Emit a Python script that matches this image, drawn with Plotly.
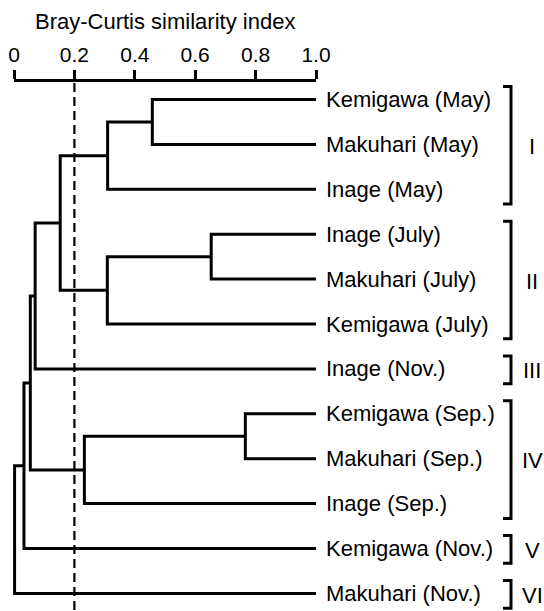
import plotly.graph_objects as go

# ---------------- data ----------------
leaves = ["Kemigawa (May)", "Makuhari (May)", "Inage (May)",
          "Inage (July)", "Makuhari (July)", "Kemigawa (July)",
          "Inage (Nov.)",
          "Kemigawa (Sep.)", "Makuhari (Sep.)", "Inage (Sep.)",
          "Kemigawa (Nov.)", "Makuhari (Nov.)"]
# merges: (child_a, child_b, similarity); new nodes numbered from len(leaves)
merge_a = [0, 12, 3, 14, 13, 16, 7, 18, 17, 20, 21]
merge_b = [1, 2, 4, 5, 15, 6, 8, 9, 19, 10, 11]
merge_sim = [0.458, 0.310, 0.653, 0.309, 0.153, 0.070, 0.766, 0.233, 0.054, 0.033, 0.002]
group_first = [0, 3, 6, 7, 10, 11]
group_last = [2, 5, 6, 9, 10, 11]
group_names = ["I", "II", "III", "IV", "V", "VI"]
tick_vals = [0, 0.2, 0.4, 0.6, 0.8, 1.0]
tick_text = ["0", "0.2", "0.4", "0.6", "0.8", "1.0"]
cut_level = 0.2
axis_title = "Bray-Curtis similarity index"

# ---------------- layout constants ----------------
W, H = 544, 611
X0_PX, XS = 14.0, 302.0      # pixel of similarity 0, pixels per unit
Y0_PX, YS = 99.5, 44.9       # pixel of first leaf, pixels per leaf
AXIS_Y_PX = 80.0
FONT = "Liberation Sans, Arial, Helvetica, sans-serif"
FS = 22
LW = 3

def px_to_x(px):
    return (px - X0_PX) / XS

def px_to_y(py):
    return (py - Y0_PX) / YS

# ---------------- tree geometry ----------------
n = len(leaves)
node_x = {i: 1.0 for i in range(n)}
node_y = {i: float(i) for i in range(n)}

fig = go.Figure()

# invisible trace for the axis subplot
fig.add_trace(go.Scatter(x=[0, 1], y=[0, 1], mode="markers",
                         marker=dict(opacity=0), hoverinfo="skip",
                         showlegend=False, xaxis="x", yaxis="y"))

for k, (a, b, s) in enumerate(zip(merge_a, merge_b, merge_sim)):
    new = n + k
    xs = [node_x[a], s, s, node_x[b]]
    ys = [node_y[a], node_y[a], node_y[b], node_y[b]]
    fig.add_trace(go.Scatter(x=xs, y=ys, mode="lines",
                             line=dict(color="black", width=LW),
                             hoverinfo="skip", showlegend=False,
                             xaxis="x2", yaxis="y2"))
    node_x[new] = s
    node_y[new] = (node_y[a] + node_y[b]) / 2.0

# dashed cut line
fig.add_trace(go.Scatter(x=[cut_level, cut_level], y=[px_to_y(83), px_to_y(H)],
                         mode="lines",
                         line=dict(color="black", width=2.2, dash="9px,5px"),
                         hoverinfo="skip", showlegend=False,
                         xaxis="x2", yaxis="y2"))

# brackets
bx = px_to_x(511)
btick = px_to_x(503)
for f, l in zip(group_first, group_last):
    top = f - 0.29
    bot = l + 0.33
    fig.add_trace(go.Scatter(x=[btick, bx, bx, btick], y=[top, top, bot, bot],
                             mode="lines",
                             line=dict(color="black", width=LW),
                             hoverinfo="skip", showlegend=False,
                             xaxis="x2", yaxis="y2"))

annotations = []
for i, name in enumerate(leaves):
    annotations.append(dict(x=1.0, y=i, xref="x2", yref="y2", text=name,
                            xanchor="left", yanchor="middle", xshift=8,
                            showarrow=False,
                            font=dict(family=FONT, size=FS, color="black")))
for f, l, g in zip(group_first, group_last, group_names):
    annotations.append(dict(x=px_to_x(532), y=(f + l) / 2.0, xref="x2", yref="y2",
                            text=g, xanchor="center", yanchor="middle", yshift=-2,
                            showarrow=False,
                            font=dict(family=FONT, size=FS, color="black")))
annotations.append(dict(x=0.5, y=1 - 21 / H, xref="x", yref="paper",
                        text=axis_title, xanchor="center", yanchor="middle",
                        showarrow=False,
                        font=dict(family=FONT, size=FS, color="black")))

fig.update_layout(
    width=W, height=H,
    margin=dict(l=0, r=0, t=0, b=0, pad=0, autoexpand=False),
    paper_bgcolor="white", plot_bgcolor="rgba(0,0,0,0)",
    showlegend=False,
    annotations=annotations,
    xaxis=dict(domain=[X0_PX / W, (X0_PX + XS) / W], range=[0, 1],
               anchor="free", position=1 - AXIS_Y_PX / H, side="top",
               automargin=False,
               showline=True, linecolor="black", linewidth=LW,
               ticks="outside", ticklen=9, tickwidth=LW, tickcolor="black",
               tickvals=tick_vals, ticktext=tick_text,
               tickfont=dict(family=FONT, size=21, color="black"),
               showgrid=False, zeroline=False, fixedrange=True),
    yaxis=dict(domain=[0, 1], range=[0, 1], visible=False, anchor="x",
               automargin=False),
    xaxis2=dict(domain=[0, 1], range=[px_to_x(0), px_to_x(W)], visible=False,
                anchor="y2", automargin=False),
    yaxis2=dict(domain=[0, 1], range=[px_to_y(H), px_to_y(0)], visible=False,
                anchor="x2", automargin=False),
)

fig.write_html("out.html")
